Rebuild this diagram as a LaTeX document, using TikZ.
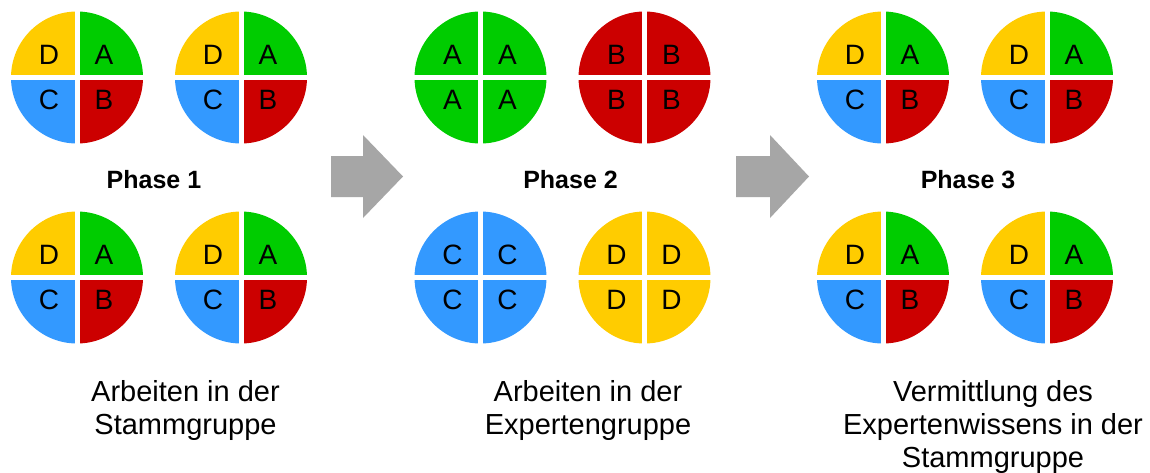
\documentclass[tikz,border=0pt]{standalone}
\usepackage{fontspec}
\setmainfont{Liberation Sans}
\definecolor{pY}{HTML}{FFCC00}
\definecolor{pG}{HTML}{00CC00}
\definecolor{pB}{HTML}{3399FF}
\definecolor{pR}{HTML}{CC0000}
\definecolor{arrowgray}{HTML}{A6A6A6}
\tikzset{
  letter/.style={inner sep=0pt, font=\fontsize{28}{30}\selectfont, text=black},
  phase/.style={inner sep=0pt, font=\bfseries\fontsize{25}{28}\selectfont},
  caption/.style={inner sep=0pt, align=center, anchor=north, font=\fontsize{29}{33}\selectfont},
  gap/.style={white, line width=5pt},
  bigarrow/.style={fill=arrowgray}
}
% #1 x, #2 y, #3 name, #4 TL col, #5 TR col, #6 BL col, #7 BR col, #8 letters as {TL}{TR}{BL}{BR}
\newcommand\pieshape[7]{%
  \fill[#4] (#1,#2) -- (#1-66,#2) arc[start angle=180,end angle=270,radius=66] -- cycle;
  \fill[#5] (#1,#2) -- (#1,#2-66) arc[start angle=270,end angle=360,radius=66] -- cycle;
  \fill[#7] (#1,#2) -- (#1+66,#2) arc[start angle=0,end angle=90,radius=66] -- cycle;
  \fill[#6] (#1,#2) -- (#1,#2+66) arc[start angle=90,end angle=180,radius=66] -- cycle;
  \draw[gap] (#1-67,#2) -- (#1+67,#2);
  \draw[gap] (#1,#2-67) -- (#1,#2+67);
}
\newcommand\pieletters[7]{%
  \node[letter] (#3-tl) at (#1-28,#2-22.5) {#4};
  \node[letter] (#3-tr) at (#1+27,#2-22.5) {#5};
  \node[letter] (#3-bl) at (#1-28,#2+22.5) {#6};
  \node[letter] (#3-br) at (#1+27,#2+22.5) {#7};
}
\newcommand\mixedpie[3]{%
  \pieshape{#1}{#2}{#3}{pY}{pG}{pB}{pR}
  \pieletters{#1}{#2}{#3}{D}{A}{C}{B}
}
\newcommand\monopie[5]{%
  \pieshape{#1}{#2}{#3}{#4}{#4}{#4}{#4}
  \pieletters{#1}{#2}{#3}{#5}{#5}{#5}{#5}
}
\begin{document}
\begin{tikzpicture}[x=1pt,y=-1pt]
\useasboundingbox[fill=white] (0,0) rectangle (1150,472);
% Phase 1
\mixedpie{77}{77.5}{s1}
\mixedpie{241}{77.5}{s2}
\mixedpie{77}{277.5}{s3}
\mixedpie{241}{277.5}{s4}
% Phase 2
\monopie{480.5}{77.5}{eA}{pG}{A}
\monopie{644.5}{77.5}{eB}{pR}{B}
\monopie{480.5}{277.5}{eC}{pB}{C}
\monopie{644.5}{277.5}{eD}{pY}{D}
% Phase 3
\mixedpie{883}{77.5}{t1}
\mixedpie{1047}{77.5}{t2}
\mixedpie{883}{277.5}{t3}
\mixedpie{1047}{277.5}{t4}
% arrows
\fill[bigarrow] (331,156) -- (363,156) -- (363,135) -- (403,176.5) -- (363,218) -- (363,197) -- (331,197) -- cycle;
\fill[bigarrow] (736,156) -- (770,156) -- (770,135) -- (809,176.5) -- (770,218) -- (770,197) -- (736,197) -- cycle;
% phase labels
\node[phase] (ph1) at (154,179.5) {Phase 1};
\node[phase] (ph2) at (570.5,179.5) {Phase 2};
\node[phase] (ph3) at (968,179.5) {Phase 3};
% captions
\node[caption] (c1) at (185.5,380) {Arbeiten in der\\Stammgruppe};
\node[caption] (c2) at (588,380) {Arbeiten in der\\Expertengruppe};
\node[caption] (c3) at (993,380) {Vermittlung des\\Expertenwissens in der\\Stammgruppe};
\end{tikzpicture}
\end{document}
